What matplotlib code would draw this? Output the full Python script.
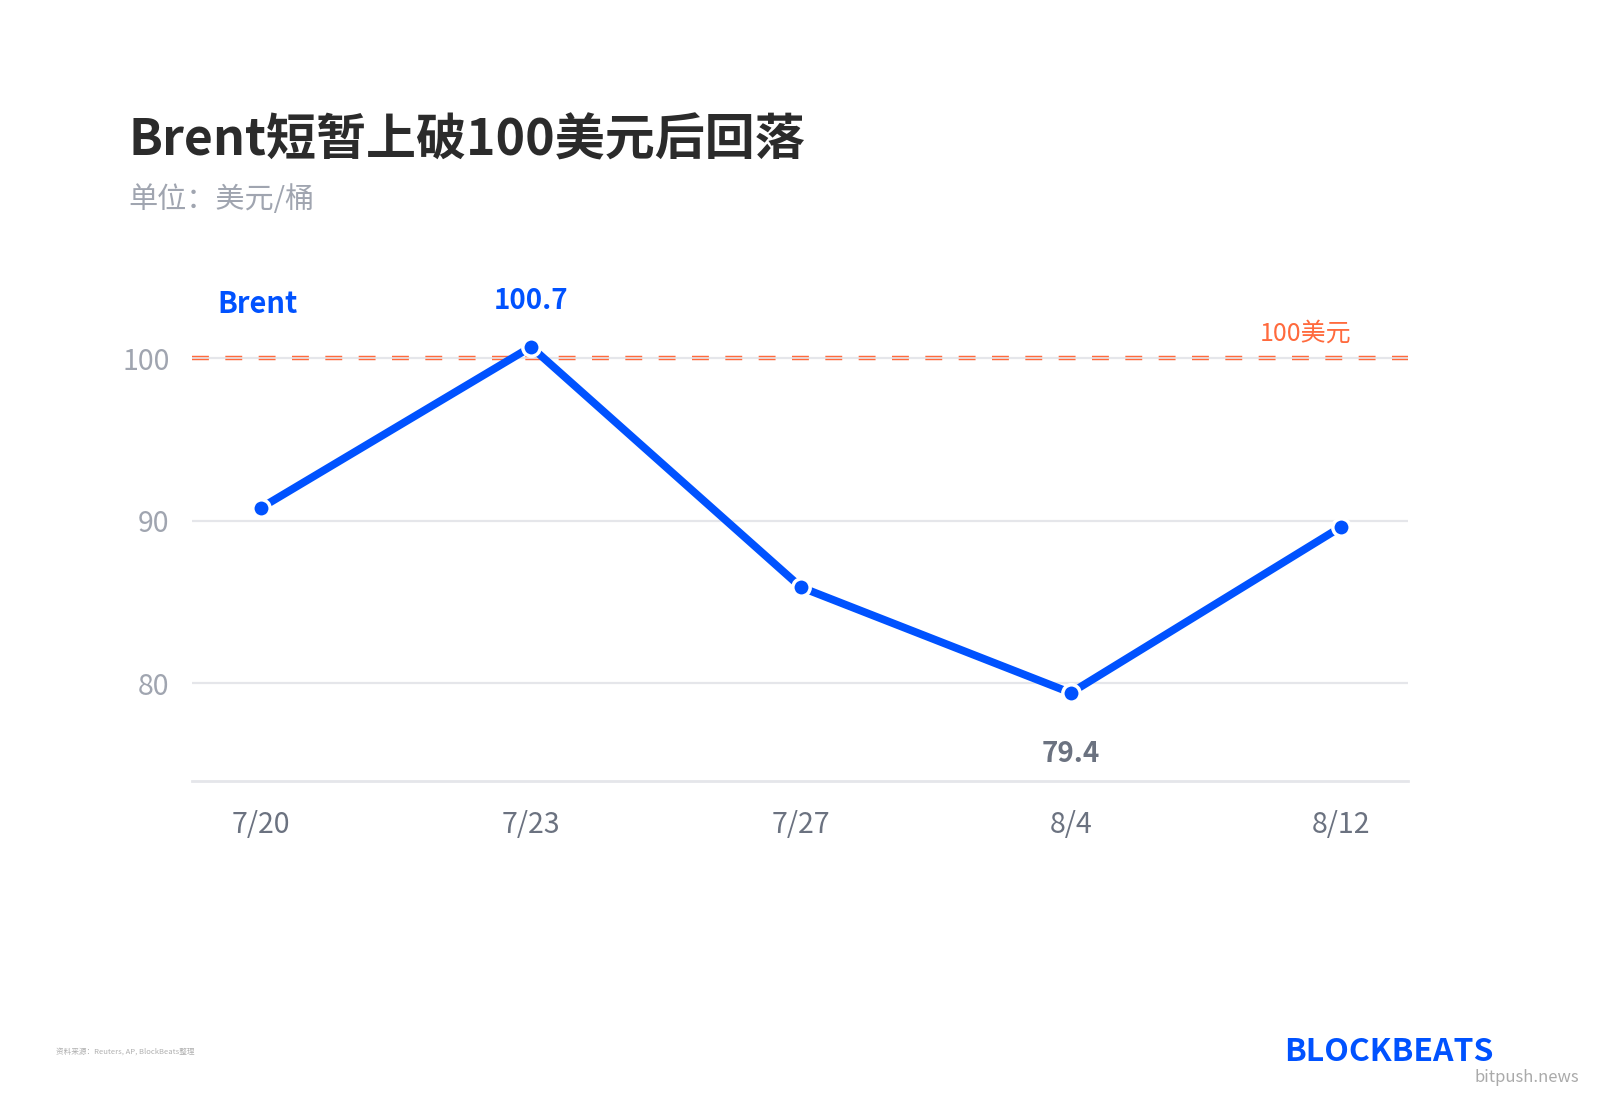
import matplotlib
matplotlib.use("Agg")
import matplotlib.pyplot as plt

plt.rcParams['font.family'] = ['Noto Sans CJK SC', 'DejaVu Sans']

dates = ["7/20", "7/23", "7/27", "8/4", "8/12"]
brent = [90.8, 100.7, 85.9, 79.4, 89.6]
yticks = [80, 90, 100]
ref_level = 100

BLUE = "#0052ff"
ORANGE = "#ff6a3d"
GRID = "#e5e6ea"

W, H = 1568.0, 1083.0  # reference layout measured at this scale


def fx(px):
    return px / W


def fy(py):
    return 1 - py / H


fig = plt.figure(figsize=(16, 11.05), dpi=100)
ax = fig.add_axes([fx(188), fy(765), fx(1380) - fx(188), fy(271.5) - fy(765)])

x = list(range(len(dates)))
ax.set_xlim(-0.257, len(dates) - 1 + 0.25)
ax.set_ylim(74, 105)

for yv in yticks:
    ax.axhline(yv, color=GRID, lw=1.6, zorder=1)
ax.axhline(ref_level, color=ORANGE, lw=3.2, dashes=(3.8, 3.7), zorder=1.5)
ax.axhline(ref_level, color=GRID, lw=1.2, zorder=1.6)

ax.plot(x, brent, color=BLUE, lw=5.6, solid_capstyle='round', zorder=3,
        marker='o', markersize=12.5, markerfacecolor=BLUE,
        markeredgecolor='white', markeredgewidth=2.5)

for s in ['top', 'right', 'left']:
    ax.spines[s].set_visible(False)
ax.spines['bottom'].set_color(GRID)
ax.spines['bottom'].set_linewidth(2)

ax.set_xticks(x)
ax.set_xticklabels(dates, fontsize=20.5, color="#6b7280")
ax.set_yticks(yticks)
ax.set_yticklabels([str(v) for v in yticks], fontsize=20.5, color="#a0a5b0")
ax.tick_params(axis='both', length=0)
ax.tick_params(axis='x', pad=21)
ax.tick_params(axis='y', pad=16)

imax = brent.index(max(brent))
imin = brent.index(min(brent))
ax.annotate(f"{brent[imax]}", (imax, brent[imax]), xytext=(0, 23),
            textcoords='offset points', ha='center', va='bottom',
            fontsize=20, fontweight='bold', color=BLUE)
ax.annotate(f"{brent[imin]}", (imin, brent[imin]), xytext=(0, -34),
            textcoords='offset points', ha='center', va='top',
            fontsize=20, fontweight='bold', color="#6b7280")
ax.text(-0.163, 103.35, "Brent", ha='left', va='center', fontsize=21,
        fontweight='bold', color=BLUE)
ax.text(3.87, 101.5, "100美元", ha='center', va='center', fontsize=18,
        color=ORANGE)

fig.text(fx(126), fy(138), "Brent短暂上破100美元后回落",
         fontsize=36, fontweight='bold', color="#2b2b2b", ha='left', va='center')
fig.text(fx(126), fy(196), "单位：美元/桶", fontsize=21,
         color="#a0a5b0", ha='left', va='center')
fig.text(fx(55), fy(1031), "资料来源：Reuters, AP, BlockBeats整理",
         fontsize=5.5, color="#b0b0b0", ha='left', va='center')
fig.text(fx(1258), fy(1031), "BLOCKBEATS", fontsize=23,
         fontweight='bold', color=BLUE, ha='left', va='center')
fig.text(fx(1548), fy(1056), "bitpush.news", fontsize=12,
         color="#aaaaaa", ha='right', va='center')

fig.savefig("out.png", dpi=100, facecolor='white')
